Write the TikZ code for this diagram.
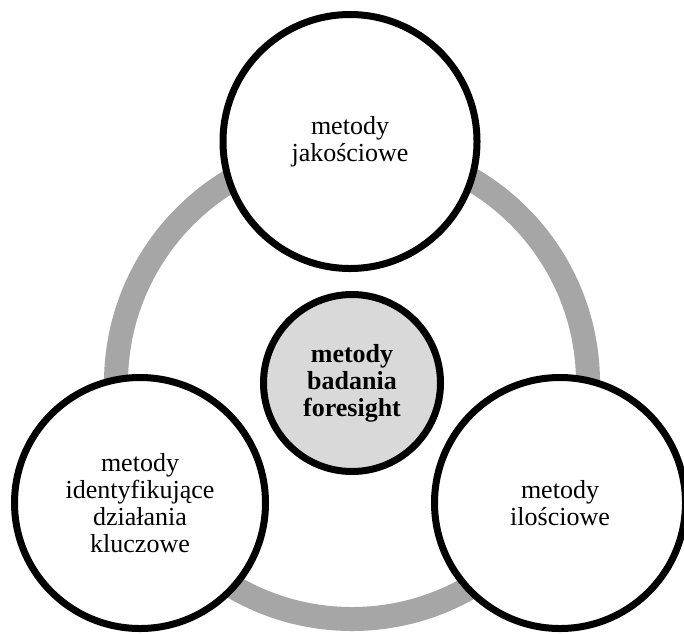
\documentclass[tikz,border=0pt]{standalone}
\usepackage{fontspec}
\setmainfont{Liberation Serif}
\usepackage{xcolor}
\usepackage{tikz}

\definecolor{ringgray}{HTML}{A6A6A6}
\definecolor{coregray}{HTML}{D9D9D9}

\begin{document}
\begin{tikzpicture}%
        [x=0.5pt, y=-0.5pt,
        ring/.style={draw=ringgray, line width=12pt},
        metoda/.style={circle, draw=black, line width=3.5pt, fill=white,
            minimum size=125.5pt, inner sep=0pt, align=center,
            font=\fontsize{13}{13.5}\selectfont},
        rdzen/.style={metoda, fill=coregray, minimum size=88.5pt,
            font=\fontsize{13}{13.5}\selectfont\bfseries}]
    \useasboundingbox (0,0) rectangle (684,633);
    %% Centre of the diagram
    \coordinate (srodek) at (352,383);
    %%
    %% Drawing the ring
    \draw[ring] (srodek) circle[radius=118pt];
    %%
    %% Drawing the methods
    \node[rdzen] (foresight) at (srodek) {metody\\badania\\foresight};
    \node[metoda, minimum size=127pt] (jakosciowe) at (350,141.5) {metody\\jakościowe};
    \node[metoda] (kluczowe) at (140,503) {metody\\identyfikujące\\działania\\kluczowe};
    \node[metoda] (ilosciowe) at (560,503) {metody\\ilościowe};
\end{tikzpicture}
\end{document}
